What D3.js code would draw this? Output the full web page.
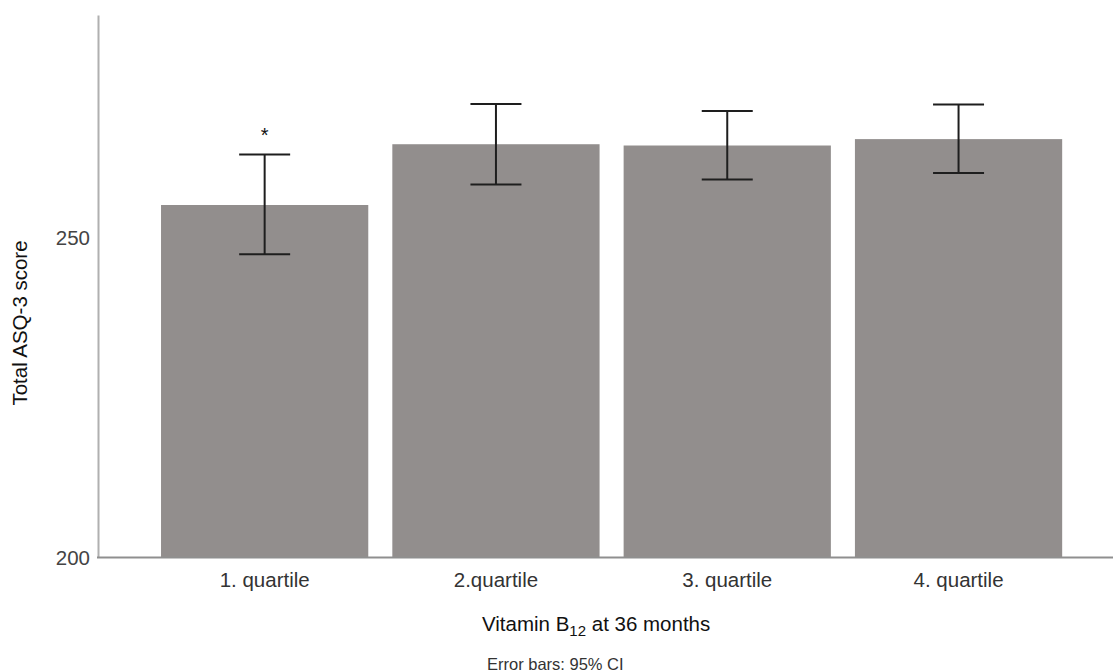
<!DOCTYPE html>
<html>
<head>
<meta charset="utf-8">
<script src="https://cdn.jsdelivr.net/npm/d3@7"></script>
<style>
  body { margin: 0; background: #fff; }
  svg { display: block; font-family: Arial, 'Liberation Sans', sans-serif; }
</style>
</head>
<body>
<svg id="chart"></svg>
<script>
const width = 1113
const height = 672

// values
const categories = ['1. quartile', '2.quartile', '3. quartile', '4. quartile']
const means = [255.1, 264.6, 264.4, 265.4]
const ciLow = [247.4, 258.3, 259.1, 260.1]
const ciHigh = [263.0, 270.9, 269.8, 270.8]
const marks = ['*', '', '', '']
const yTicks = [200, 250]

const barColor = '#928e8d'
const axisX = 98

const svg = d3.select('#chart')
  .attr('width', width)
  .attr('height', height)

const x = d3.scaleBand()
  .domain(categories)
  .range([149, 1074.2])
  .paddingInner(0.104)
  .paddingOuter(0.052)

const y = d3.scaleLinear()
  .domain([200, 284.8])
  .range([557.5, 15])

const rows = categories.map((c, i) => ({
  cat: c, mean: means[i], lo: ciLow[i], hi: ciHigh[i], mark: marks[i]
}))

// bars
svg.append('g')
  .selectAll('rect')
  .data(rows)
  .enter()
  .append('rect')
  .attr('x', d => x(d.cat))
  .attr('y', d => y(d.mean))
  .attr('width', x.bandwidth())
  .attr('height', d => y(200) - y(d.mean))
  .attr('fill', barColor)

// error bars
const capHalf = 25.5
const err = svg.append('g')
  .attr('stroke', '#1e1e1e')
  .attr('stroke-width', 2)
  .selectAll('g')
  .data(rows)
  .enter()
  .append('g')
  .attr('transform', d => `translate(${x(d.cat) + x.bandwidth() / 2},0)`)

err.append('line')
  .attr('y1', d => y(d.lo))
  .attr('y2', d => y(d.hi))
err.append('line')
  .attr('x1', -capHalf).attr('x2', capHalf)
  .attr('y1', d => y(d.hi)).attr('y2', d => y(d.hi))
err.append('line')
  .attr('x1', -capHalf).attr('x2', capHalf)
  .attr('y1', d => y(d.lo)).attr('y2', d => y(d.lo))

// significance marks
svg.append('g')
  .selectAll('text')
  .data(rows.filter(d => d.mark))
  .enter()
  .append('text')
  .attr('x', d => x(d.cat) + x.bandwidth() / 2)
  .attr('y', d => y(d.hi) - 12)
  .attr('text-anchor', 'middle')
  .attr('font-size', '20px')
  .attr('fill', '#111')
  .text(d => d.mark)

// y axis
const yAxis = svg.append('g')
  .attr('transform', `translate(${axisX},0)`)
  .call(d3.axisLeft(y).tickValues(yTicks).tickSize(0).tickSizeOuter(0).tickPadding(8))
yAxis.select('.domain').attr('stroke', '#b0b0b0').attr('stroke-width', 2)
yAxis.selectAll('text')
  .attr('font-size', '20.5px')
  .attr('font-family', null)
  .attr('fill', '#444')

// x axis
const xAxis = svg.append('g')
  .attr('transform', `translate(0,${y(200)})`)
  .call(d3.axisBottom(x).tickSize(0).tickPadding(15))
xAxis.select('.domain').remove()
xAxis.selectAll('text')
  .attr('font-size', '20.5px')
  .attr('font-family', null)
  .attr('fill', '#333')

svg.append('line')
  .attr('x1', axisX - 1)
  .attr('x2', width)
  .attr('y1', y(200))
  .attr('y2', y(200))
  .attr('stroke', '#8f8f8f')
  .attr('stroke-width', 2)

// axis titles
svg.append('text')
  .attr('transform', 'translate(27,323) rotate(-90)')
  .attr('text-anchor', 'middle')
  .attr('font-size', '20.5px')
  .attr('fill', '#111')
  .text('Total ASQ-3 score')

const xTitle = svg.append('text')
  .attr('x', 482)
  .attr('y', 631)
  .attr('font-size', '20.5px')
  .attr('fill', '#111')
xTitle.append('tspan').text('Vitamin B')
xTitle.append('tspan').attr('font-size', '15px').attr('dy', 5).text('12')
xTitle.append('tspan').attr('dy', -5).text(' at 36 months')

svg.append('text')
  .attr('x', 487)
  .attr('y', 670)
  .attr('font-size', '16.5px')
  .attr('fill', '#333')
  .text('Error bars: 95% CI')
</script>
</body>
</html>
